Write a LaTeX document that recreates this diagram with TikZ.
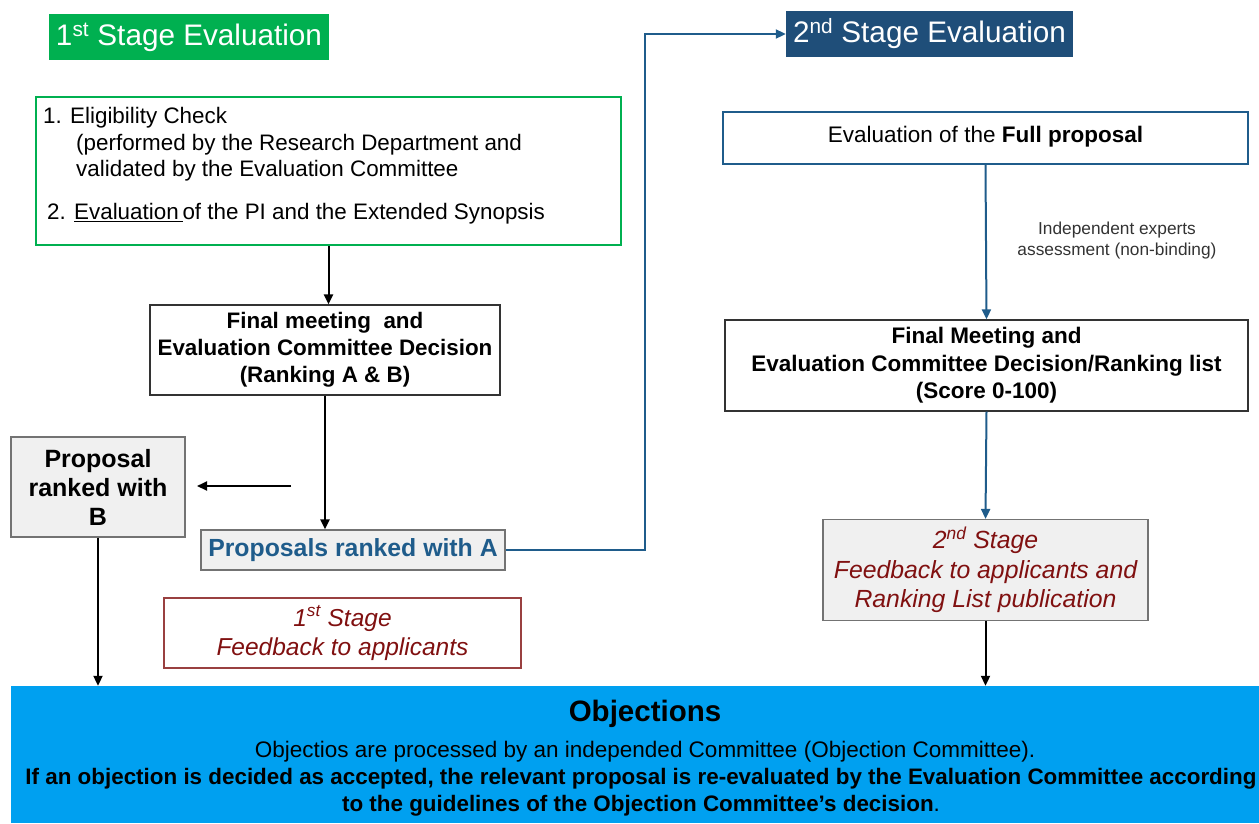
\documentclass[tikz,border=0pt]{standalone}
\usepackage{fontspec}
\setmainfont{Liberation Sans}
\usetikzlibrary{arrows.meta}
\definecolor{stagegreen}{RGB}{0,176,80}
\definecolor{stagenavy}{RGB}{31,78,121}
\definecolor{linkblue}{RGB}{31,92,139}
\definecolor{objblue}{RGB}{0,160,240}
\definecolor{fbred}{RGB}{128,16,16}
\newcommand{\fs}[2]{\fontsize{#1}{#2}\selectfont}
\begin{document}
\begin{tikzpicture}[x=1pt,y=-1pt,
    stagebox/.style={fill=#1,text=white,inner sep=0pt,font=\fs{29.7}{32}},
    plainbox/.style={draw=black!80,line width=1.2pt,inner sep=0pt,align=center},
    greybox/.style={draw=black!55,fill=black!6,line width=1.2pt,inner sep=0pt,align=center},
    arr/.style={line width=2pt,-{Triangle[length=10pt,width=9pt]}},
    link/.style={arr,draw=linkblue}]
  \useasboundingbox (0,0) rectangle (1259,823);
  % 1st stage
  \node[stagebox=stagegreen,minimum width=280,minimum height=46] (s1) at (189,37)
    {1\textsuperscript{st} Stage Evaluation};
  \node[draw=stagegreen,line width=1.5pt,minimum width=585,minimum height=148,inner sep=0pt] (elig) at (328.5,171) {};
  \node[anchor=west,inner sep=0pt,font=\fs{22.4}{26}] (e1) at (43,118) {1. Eligibility Check};
  \node[anchor=west,inner sep=0pt,font=\fs{22.4}{26}] (e2) at (76,145) {(performed by the Research Department and};
  \node[anchor=west,inner sep=0pt,font=\fs{22.4}{26}] (e3) at (76,171) {validated by the Evaluation Committee};
  \node[anchor=west,inner sep=0pt,font=\fs{22.4}{26}] (e4) at (47,214) {2. \underline{Evaluation\,}of the PI and the Extended Synopsis};
  \node[plainbox,minimum width=350,minimum height=90,font=\bfseries\fs{22.4}{27}] (fm1) at (325,350)
    {Final meeting~ and\\Evaluation Committee Decision\\(Ranking A \& B)};
  \node[greybox,minimum width=304,minimum height=40,text=linkblue,font=\bfseries\fs{24.8}{28}] (rankA) at (353,550)
    {Proposals ranked with A};
  \node[greybox,minimum width=174,minimum height=100,font=\bfseries\fs{25}{29}] (rankB) at (98,487)
    {Proposal\\ranked with\\B};
  \node[draw=fbred!80,line width=1.2pt,minimum width=357,minimum height=70,inner sep=0pt,align=center,
    text=fbred,font=\itshape\fs{24.5}{29}] (fb1) at (342.5,633)
    {1\textsuperscript{st} Stage\\Feedback to applicants};
  \coordinate (bfrom) at (291,486);
  \coordinate (bto) at (197,486);
  \coordinate (bend) at (645,0);
  % 2nd stage
  \node[stagebox=stagenavy,minimum width=287,minimum height=46] (s2) at (929.5,34)
    {2\textsuperscript{nd} Stage Evaluation};
  \node[draw=linkblue,line width=2pt,minimum width=525,minimum height=52,inner sep=0pt,font=\fs{22.5}{25}] (full) at (985.5,138)
    {\raisebox{7pt}{Evaluation of the \textbf{Full proposal}}};
  \node[plainbox,minimum width=523,minimum height=91,font=\bfseries\fs{22.5}{27.5}] (fm2) at (986.5,365.5)
    {Final Meeting and\\Evaluation Committee Decision/Ranking list\\(Score 0-100)};
  \node[greybox,minimum width=325,minimum height=101,text=fbred,font=\itshape\fs{24.8}{29.5}] (fb2) at (985.5,570)
    {2\textsuperscript{nd} Stage\\Feedback to applicants and\\Ranking List publication};
  % objections
  \node[fill=objblue,minimum width=1248,minimum height=137,inner sep=0pt] (obj) at (635,754.5) {};
  \node[font=\bfseries\fs{29.5}{32}] (objt) at (645,714) {Objections};
  \node[font=\fs{22.5}{26}] (objl) at (645,752) {Objectios are processed by an independed Committee (Objection Committee).};
  \node[align=center,font=\bfseries\fs{22.4}{27}] (objb) at (641,792.5)
    {If an objection is decided as accepted, the relevant proposal is re-evaluated by the Evaluation Committee according\\to the guidelines of the Objection Committee’s decision\mdseries.};
  % connectors
  \draw[arr] (elig.south) -- (elig.south |- fm1.north);
  \draw[arr] (fm1.south) -- (fm1.south |- rankA.north);
  \draw[arr] (bfrom) -- (bto);
  \draw[arr] (rankB.south) -- (rankB.south |- obj.north);
  \draw[link] (rankA.east) -- (rankA.east -| bend) |- (s2.west);
  \draw[link] (full.south) -- (fm2.north);
  \node[text=black!80,align=center,font=\fs{17.3}{21}] (expert) at (1117,241)
    {Independent experts\\assessment (non-binding)};
  \draw[link] (fm2.south) -- (fb2.north);
  \draw[arr] (fb2.south) -- (fb2.south |- obj.north);
\end{tikzpicture}
\end{document}
